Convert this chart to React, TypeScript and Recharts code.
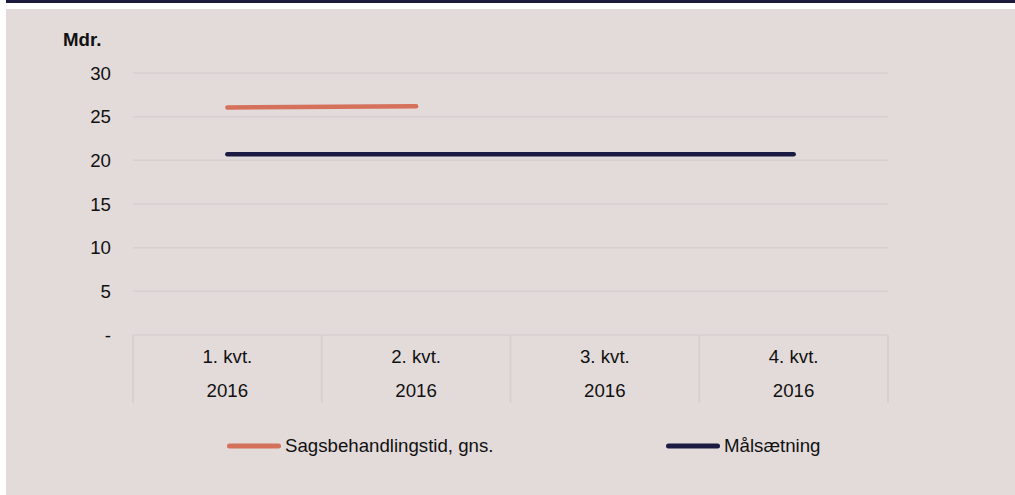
import React from "react";
import { LineChart, Line, XAxis, YAxis, CartesianGrid, Legend } from "recharts";

const categories = ["1. kvt.", "2. kvt.", "3. kvt.", "4. kvt."];
const years = ["2016", "2016", "2016", "2016"];
const sagsbehandlingstid = [26.05, 26.2, null, null];
const maalsaetning = [20.7, 20.7, 20.7, 20.7];
const yTicks = [0, 5, 10, 15, 20, 25, 30];

const seriesNames = ["Sagsbehandlingstid, gns.", "Målsætning"];
const seriesColors = ["#d5705a", "#1b1a42"];

const data = categories.map((c, i) => ({
  cat: c,
  year: years[i],
  sags: sagsbehandlingstid[i],
  maal: maalsaetning[i],
}));

const FONT = '"Liberation Sans", Arial, sans-serif';
const FS = 18.67;
const GRID = "#d6d0d0";

const CatTick = (props: any) => {
  const { x, y, payload, index, visibleTicksCount } = props;
  const half = payload && payload.offset ? payload.offset : 94.4;
  const d = data[index] || { year: "" };
  const isLast = index === (visibleTicksCount ?? categories.length) - 1;
  return (
    <g>
      <line x1={x - half} x2={x - half} y1={y} y2={y + 68} stroke={GRID} strokeWidth={2} />
      {isLast && <line x1={x + half} x2={x + half} y1={y} y2={y + 68} stroke={GRID} strokeWidth={2} />}
      <text x={x} y={y + 28.3} textAnchor="middle" fontSize={FS} fontFamily={FONT} fill="#111">
        {payload.value}
      </text>
      <text x={x} y={y + 61.7} textAnchor="middle" fontSize={FS} fontFamily={FONT} fill="#111">
        {d.year}
      </text>
    </g>
  );
};

const fmt = (v: number) => (v === 0 ? "-" : String(v));

const LegendContent = () => (
  <div style={{ display: "flex", fontFamily: FONT, fontSize: FS, color: "#111" }}>
    {seriesNames.map((n, i) => (
      <div key={n} style={{ display: "flex", alignItems: "center", width: i === 0 ? 439 : "auto" }}>
        <svg width={60} height={10} style={{ display: "block" }}>
          <line x1={4.5} x2={53.5} y1={5} y2={5} stroke={seriesColors[i]} strokeWidth={5} strokeLinecap="round" />
        </svg>
        <span style={{ lineHeight: "20px" }}>{n}</span>
      </div>
    ))}
  </div>
);

const MdrLabel = (props: any) => {
  const vb = props.viewBox || { x: 67, y: 64 };
  return (
    <text x={vb.x - 10} y={vb.y - 27} fontSize={FS} fontWeight="bold" fontFamily={FONT} fill="#111">
      Mdr.
    </text>
  );
};

export default function App() {
  return (
    <div style={{ position: "absolute", left: 0, top: 0, width: 1015, height: 495, overflow: "hidden" }}>
      <div style={{ position: "absolute", left: 6, top: 0, width: 1009, height: 3, background: "#1b1a3c" }} />
      <div style={{ position: "absolute", left: 6, top: 9, width: 1009, height: 486, background: "#e3dbda" }}>
        <LineChart
          width={1009}
          height={486}
          data={data}
          margin={{ top: 64, right: 67, left: 67, bottom: 70 }}
          style={{ fontFamily: FONT }}
        >
          <CartesianGrid horizontal vertical={false} stroke={GRID} strokeWidth={1.5} yAxisId="left" />
          <XAxis
            dataKey="cat"
            scale="band"
            axisLine={false}
            tickLine={false}
            tickSize={0}
            tickMargin={0}
            height={70}
            tick={<CatTick />}
            interval={0}
            yAxisId="left"
          />
          <YAxis
            yAxisId="left"
            domain={[0, 30]}
            ticks={yTicks}
            width={60}
            axisLine={false}
            tickLine={false}
            tickSize={0}
            tickMargin={22}
            tickFormatter={fmt}
            tick={{ fontSize: FS, fill: "#111", fontFamily: FONT }}
            label={<MdrLabel />}
          />
          <YAxis
            yAxisId="right"
            orientation="right"
            domain={[0, 30]}
            ticks={yTicks}
            width={60}
            axisLine={false}
            tickLine={false}
            tickSize={0}
            tickMargin={22}
            tickFormatter={fmt}
            tick={{ fontSize: FS, fill: "#111", fontFamily: FONT, textAnchor: "start" }}
          />
          <Line
            yAxisId="left"
            dataKey="sags"
            name={seriesNames[0]}
            stroke={seriesColors[0]}
            strokeWidth={4.5}
            strokeLinecap="round"
            dot={false}
            activeDot={false}
            isAnimationActive={false}
          />
          <Line
            yAxisId="left"
            dataKey="maal"
            name={seriesNames[1]}
            stroke={seriesColors[1]}
            strokeWidth={4.5}
            strokeLinecap="round"
            dot={false}
            activeDot={false}
            isAnimationActive={false}
          />
          <Legend
            content={<LegendContent />}
            wrapperStyle={{ position: "absolute", left: 219, top: 427, width: 700 }}
          />
        </LineChart>
      </div>
    </div>
  );
}
